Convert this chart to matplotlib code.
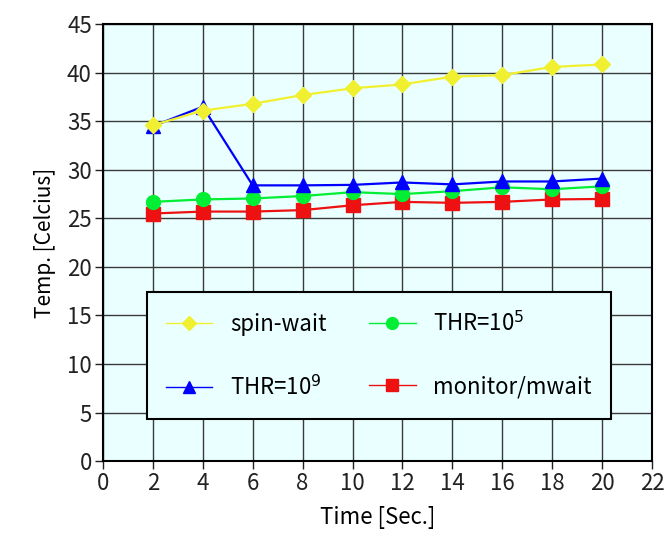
import matplotlib
matplotlib.use("Agg")
import matplotlib.pyplot as plt

plt.rcParams['font.family'] = ['Noto Sans CJK JP', 'DejaVu Sans']

time = [2, 4, 6, 8, 10, 12, 14, 16, 18, 20]
spin_wait = [34.6, 36.1, 36.8, 37.7, 38.4, 38.8, 39.6, 39.75, 40.6, 40.85]
thr_1e9 = [34.5, 36.5, 28.4, 28.4, 28.45, 28.7, 28.5, 28.8, 28.8, 29.1]
thr_1e5 = [26.7, 26.95, 27.05, 27.3, 27.7, 27.5, 27.8, 28.2, 28.0, 28.3]
monitor = [25.5, 25.7, 25.7, 25.85, 26.35, 26.7, 26.6, 26.7, 26.95, 27.0]

xticks = list(range(0, 23, 2))
yticks = list(range(0, 46, 5))

fig = plt.figure(figsize=(6.64, 5.38), dpi=100)
ax = fig.add_axes([0.155, 0.143, 0.827, 0.812])
ax.set_facecolor('#eaffff')

l_spin, = ax.plot(time, spin_wait, color='#f0f030', marker='D', markersize=8, lw=1.6, zorder=5)
l_9, = ax.plot(time, thr_1e9, color='#0000ff', marker='^', markersize=10, lw=1.6, zorder=4)
l_5, = ax.plot(time, thr_1e5, color='#00ee33', marker='o', markersize=10, lw=1.6, zorder=3)
l_mon, = ax.plot(time, monitor, color='#ee1111', marker='s', markersize=10, lw=1.6, zorder=2)

ax.set_xlim(0, 22)
ax.set_ylim(0, 45)
ax.set_xticks(xticks)
ax.set_yticks(yticks)
ax.grid(True, color='#3a3a3a', lw=1.0)
ax.set_axisbelow(True)
for s in ax.spines.values():
    s.set_linewidth(1.5)
    s.set_color('black')
ax.tick_params(direction='out', length=6, width=1, labelsize=16, colors='#222222', pad=2)

ax.set_xlabel('Time [Sec.]', fontsize=16, labelpad=8)
ax.set_ylabel('Temp. [Celcius]', fontsize=15, labelpad=8)

leg = ax.legend([l_spin, l_9, l_5, l_mon],
                ['spin-wait', 'THR=10$^9$', 'THR=10$^5$', 'monitor/mwait'],
                ncol=2, loc='lower left', bbox_to_anchor=(0.08, 0.096, 0.845, 0.293),
                mode='expand', borderaxespad=0, fontsize=16, labelspacing=1.75,
                handlelength=2.1, markerscale=0.85, fancybox=False,
                facecolor='#eaffff', edgecolor='black', framealpha=1,
                borderpad=0.85, columnspacing=0.8, handletextpad=0.8)
leg.get_frame().set_linewidth(1.5)
for h in leg.legend_handles:
    h.set_linewidth(1.0)

fig.savefig('out.png', dpi=100)
